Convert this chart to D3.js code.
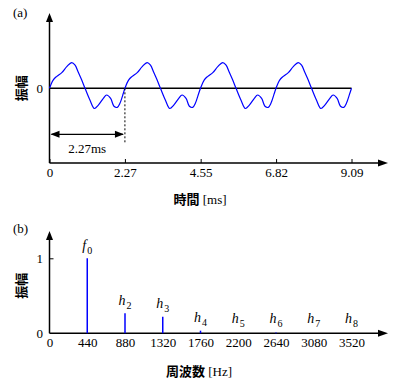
<!DOCTYPE html>
<html>
<head>
<meta charset="utf-8">
<script src="https://cdn.jsdelivr.net/npm/d3@7"></script>
<style>
  html, body { margin: 0; padding: 0; background: #fff; }
  svg { display: block; }
  .num { font-family: "Liberation Serif", "Times New Roman", serif; font-size: 13px; fill: #000; }
  .cjk { font-family: "Noto Sans CJK JP", "Noto Sans CJK SC", sans-serif; font-weight: bold; font-size: 13px; fill: #000; }
</style>
</head>
<body>
<svg id="chart" width="401" height="383"></svg>
<script>
// ---- Data ----
// Panel (a): waveform, time in ms and relative amplitude
const waveTime = [
  0, 0.11, 0.22, 0.37, 0.52, 0.67, 0.77, 0.87, 0.97, 1.07, 1.22, 1.35, 1.47, 1.62, 1.72, 1.84, 1.94, 2.04, 2.12, 2.22,
  2.27, 2.38, 2.49, 2.64, 2.79, 2.94, 3.04, 3.14, 3.24, 3.34, 3.49, 3.62, 3.74, 3.89, 3.99, 4.11, 4.21, 4.31, 4.39, 4.49,
  4.545, 4.655, 4.765, 4.915, 5.065, 5.215, 5.315, 5.415, 5.515, 5.615, 5.765, 5.895, 6.015, 6.165, 6.265, 6.385, 6.485, 6.585, 6.665, 6.765,
  6.8175, 6.9275, 7.0375, 7.1875, 7.3375, 7.4875, 7.5875, 7.6875, 7.7875, 7.8875, 8.0375, 8.1675, 8.2875, 8.4375, 8.5375, 8.6575, 8.7575, 8.8575, 8.9375, 9.0375,
  9.09
];
const waveAmp = [
  0, 0.11, 0.16, 0.21, 0.29, 0.345, 0.31, 0.21, 0.11, 0, -0.16, -0.27, -0.225, -0.135, -0.09, -0.135, -0.24, -0.255, -0.2, -0.07,
  0, 0.11, 0.16, 0.21, 0.29, 0.345, 0.31, 0.21, 0.11, 0, -0.16, -0.27, -0.225, -0.135, -0.09, -0.135, -0.24, -0.255, -0.2, -0.07,
  0, 0.11, 0.16, 0.21, 0.29, 0.345, 0.31, 0.21, 0.11, 0, -0.16, -0.27, -0.225, -0.135, -0.09, -0.135, -0.24, -0.255, -0.2, -0.07,
  0, 0.11, 0.16, 0.21, 0.29, 0.345, 0.31, 0.21, 0.11, 0, -0.16, -0.27, -0.225, -0.135, -0.09, -0.135, -0.24, -0.255, -0.2, -0.07,
  0
];
const timeTicks = [0, 2.27, 4.55, 6.82, 9.09];
const timeTickLabels = ["0", "2.27", "4.55", "6.82", "9.09"];
const periodMs = 2.27;
const periodLabel = "2.27ms";

// Panel (b): spectrum
const freqs = [440, 880, 1320, 1760, 2200, 2640, 3080, 3520];
const mags = [1.0, 0.267, 0.22, 0.035, 0.0, 0.012, 0.0, 0.0];
const peakNames = ["f", "h", "h", "h", "h", "h", "h", "h"];
const peakSubs = ["0", "2", "3", "4", "5", "6", "7", "8"];
const freqTicks = [0, 440, 880, 1320, 1760, 2200, 2640, 3080, 3520];

const yLabel = "振幅";
const xLabelA = ["時間", " [ms]"];
const xLabelB = ["周波数", " [Hz]"];

// ---- Drawing ----
const svg = d3.select("#chart");
const blue = "#0000ff";

function arrowUp(g, x, yTip) {
  g.append("path").attr("d", `M${x},${yTip} L${x-3.5},${yTip+9} L${x+3.5},${yTip+9} Z`).attr("fill", "#000");
}
function arrowRight(g, xTip, y) {
  g.append("path").attr("d", `M${xTip},${y} L${xTip-10},${y-3.5} L${xTip-10},${y+3.5} Z`).attr("fill", "#000");
}

// Panel (a)
const xA = d3.scaleLinear().domain([0, 9.09]).range([49.5, 351.5]);
const yA = d3.scaleLinear().domain([-1, 1]).range([163, 13.6]);
const gA = svg.append("g");

// axes
gA.append("line").attr("x1", 49.5).attr("x2", 49.5).attr("y1", yA(-1)).attr("y2", 18)
  .attr("stroke", "#000").attr("stroke-width", 1.5);
arrowUp(gA, 49.5, 13);
const axA = gA.append("g").attr("transform", `translate(0,${yA(-1)})`)
  .call(d3.axisBottom(xA).tickValues(timeTicks).tickFormat((d, i) => timeTickLabels[i]).tickSizeInner(-4).tickSizeOuter(0).tickPadding(5));
axA.select(".domain").remove();
axA.selectAll(".tick line").attr("stroke", "#000").attr("stroke-width", 1);
axA.selectAll(".tick text").attr("class", "num").attr("font-family", null).attr("font-size", null);
gA.append("line").attr("x1", 49.5).attr("x2", 382).attr("y1", yA(-1)).attr("y2", yA(-1))
  .attr("stroke", "#000").attr("stroke-width", 1.5);
arrowRight(gA, 388, yA(-1));

// zero line
gA.append("line").attr("x1", xA(0)).attr("x2", xA(9.09)).attr("y1", yA(0)).attr("y2", yA(0))
  .attr("stroke", "#000").attr("stroke-width", 1.5);
gA.append("text").attr("class", "num").attr("x", 43).attr("y", yA(0)).attr("dy", "0.35em")
  .attr("text-anchor", "end").text("0");

// waveform
const wave = waveTime.map((t, i) => [t, waveAmp[i]]);
gA.append("path").datum(wave)
  .attr("d", d3.line().x(d => xA(d[0])).y(d => yA(d[1])).curve(d3.curveCatmullRom.alpha(0.5)))
  .attr("fill", "none").attr("stroke", blue).attr("stroke-width", 1.2);

// period annotation
gA.append("line").attr("x1", xA(periodMs)).attr("x2", xA(periodMs)).attr("y1", yA(0)).attr("y2", 144)
  .attr("stroke", "#000").attr("stroke-width", 1).attr("stroke-dasharray", "2,2");
const yArr = 134.3;
gA.append("line").attr("x1", xA(0) + 2).attr("x2", xA(periodMs) - 2).attr("y1", yArr).attr("y2", yArr)
  .attr("stroke", "#000").attr("stroke-width", 1.2);
gA.append("path").attr("d", `M${xA(0)+1},${yArr} L${xA(0)+10},${yArr-3.5} L${xA(0)+10},${yArr+3.5} Z`).attr("fill", "#000");
gA.append("path").attr("d", `M${xA(periodMs)-1},${yArr} L${xA(periodMs)-10},${yArr-3.5} L${xA(periodMs)-10},${yArr+3.5} Z`).attr("fill", "#000");
gA.append("text").attr("class", "num").attr("x", (xA(0) + xA(periodMs)) / 2).attr("y", 153)
  .attr("text-anchor", "middle").text(periodLabel);

// labels
gA.append("text").attr("class", "num").attr("x", 13).attr("y", 17).text("(a)");
gA.append("text").attr("class", "cjk").attr("transform", `translate(26,${yA(0)}) rotate(-90)`)
  .attr("text-anchor", "middle").text(yLabel);
const tA = gA.append("text").attr("x", 200).attr("y", 204).attr("text-anchor", "middle");
tA.append("tspan").attr("class", "cjk").text(xLabelA[0]);
tA.append("tspan").attr("class", "num").text(xLabelA[1]);

// Panel (b)
const xB = d3.scaleLinear().domain([0, 3520]).range([49.5, 351.5]);
const yB = d3.scaleLinear().domain([0, 1]).range([333.3, 258.3]);
const gB = svg.append("g");

gB.append("line").attr("x1", 49.5).attr("x2", 49.5).attr("y1", yB(0)).attr("y2", 236)
  .attr("stroke", "#000").attr("stroke-width", 1.5);
arrowUp(gB, 49.5, 231);
const axB = gB.append("g").attr("transform", `translate(0,${yB(0)})`)
  .call(d3.axisBottom(xB).tickValues(freqTicks).tickFormat(d3.format("d")).tickSize(0).tickPadding(4));
axB.select(".domain").remove();
axB.selectAll(".tick text").attr("class", "num").attr("font-family", null).attr("font-size", null);
gB.append("line").attr("x1", 49.5).attr("x2", 382).attr("y1", yB(0)).attr("y2", yB(0))
  .attr("stroke", "#000").attr("stroke-width", 1.5);
arrowRight(gB, 388, yB(0));

// y ticks
const ayB = gB.append("g").attr("transform", "translate(49.5,0)")
  .call(d3.axisRight(yB).tickValues([1]).tickSize(4).tickFormat(""));
ayB.select(".domain").remove();
ayB.selectAll(".tick line").attr("stroke", "#000").attr("stroke-width", 1);
[0, 1].forEach(v => {
  gB.append("text").attr("class", "num").attr("x", 43).attr("y", yB(v)).attr("dy", "0.35em")
    .attr("text-anchor", "end").text(String(v));
});

// bars
gB.selectAll(".bar").data(freqs).enter().append("line")
  .attr("x1", d => xB(d)).attr("x2", d => xB(d))
  .attr("y1", yB(0)).attr("y2", (d, i) => yB(mags[i]))
  .attr("stroke", blue).attr("stroke-width", 1.5);

// peak labels
freqs.forEach((f, i) => {
  const by = Math.min(yB(mags[i]) - 8.5, 322.5);
  const t = gB.append("text").attr("x", xB(f)).attr("y", by).attr("text-anchor", "middle")
    .attr("font-family", "Liberation Serif, serif").attr("fill", "#000");
  t.append("tspan").attr("font-style", "italic").attr("font-size", "14px").text(peakNames[i]);
  t.append("tspan").attr("font-size", "10px").attr("dy", 4).attr("dx", 1).text(peakSubs[i]);
});

gB.append("text").attr("class", "num").attr("x", 13).attr("y", 233).text("(b)");
gB.append("text").attr("class", "cjk").attr("transform", `translate(26,${(yB(0)+yB(1))/2 - 10}) rotate(-90)`)
  .attr("text-anchor", "middle").text(yLabel);
const tB = gB.append("text").attr("x", 199).attr("y", 376).attr("text-anchor", "middle");
tB.append("tspan").attr("class", "cjk").text(xLabelB[0]);
tB.append("tspan").attr("class", "num").text(xLabelB[1]);
</script>
</body>
</html>
